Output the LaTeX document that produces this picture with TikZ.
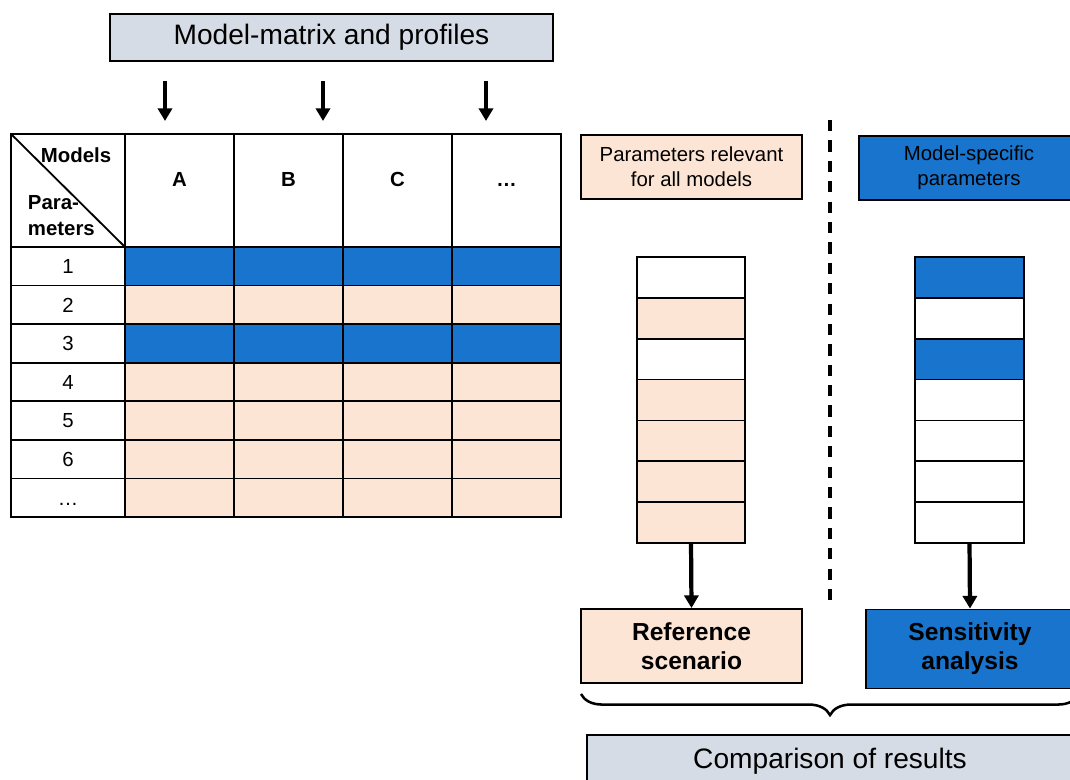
\documentclass[tikz,border=0pt]{standalone}
\usepackage{fontspec}
\setmainfont{Liberation Sans}
\usetikzlibrary{arrows.meta,decorations.pathreplacing}

\definecolor{mblue}{RGB}{24,116,205}
\definecolor{peach}{RGB}{253,229,213}
\definecolor{headgray}{RGB}{214,220,229}

\tikzset{
  cell/.style={draw, line width=1.3pt, inner sep=0pt, outer sep=0pt, anchor=north west,
    text height=10.4pt, text depth=0pt, font=\fontsize{14.5}{17}\selectfont},
  headbox/.style={draw, line width=1.3pt, fill=headgray, inner sep=0pt,
    font=\fontsize{20}{24}\selectfont},
  infobox/.style={draw, line width=1.3pt, inner sep=0pt, align=center,
    font=\fontsize{14.5}{17.5}\selectfont},
  resbox/.style={draw, line width=1.3pt, inner sep=0pt, align=center,
    font=\fontsize{17.5}{20.5}\selectfont\bfseries},
  flow/.style={line width=3pt, -{Triangle[width=10pt,length=9pt]}}
}

\begin{document}
\begin{tikzpicture}[x=0.025cm, y=-0.025cm]
    \useasboundingbox (0,0) rectangle (1070,780);
    \clip (0,0) rectangle (1070,780);

    % Top heading and the three arrows below it
    \node[headbox, minimum width=11.075cm, minimum height=1.175cm] (matrix) at (331.5,37.5) {Model-matrix and profiles};
    \foreach \ax/\n in {165/1,323/2,486/3} {
        \coordinate (as\n) at (\ax,81);
        \coordinate (ae\n) at (\ax,121);
        \draw[flow] (as\n) -- (ae\n);
    }

    % Table head
    \node[cell, minimum width=2.85cm, minimum height=2.825cm] (hd) at (11,134) {};
    \draw[line width=1.3pt] (hd.north west) -- (hd.south east);
    \node[font=\fontsize{14.5}{17}\selectfont\bfseries] (models) at (76,155) {Models};
    \node[anchor=west, align=left, font=\fontsize{14.5}{18.5}\selectfont\bfseries] (params) at (23,216) {Para-\\meters};
    \foreach \lab [count=\i from 0] in {A,B,C,…} {
        \node[cell, minimum width=2.725cm, minimum height=2.825cm] (col\i) at ({125+109*\i},134) {};
        \node[anchor=base, font=\fontsize{14.5}{17}\selectfont\bfseries] (colname\i) at ({179.5+109*\i},187) {\lab};
    }

    % Table rows
    \foreach \r/\lab/\fc in {1/1/mblue,2/2/peach,3/3/mblue,4/4/peach,5/5/peach,6/6/peach,7/…/peach} {
        \node[cell, minimum width=2.85cm, minimum height=0.964cm] (row\r) at (11,{247+38.57*(\r-1)}) {\lab};
        \foreach \i in {0,...,3}
            \node[cell, fill=\fc, minimum width=2.725cm, minimum height=0.964cm] (c\r\i) at ({125+109*\i},{247+38.57*(\r-1)}) {};
    }

    % Parameter groups
    \node[infobox, fill=peach, minimum width=5.525cm, minimum height=1.6cm] (allpar) at (691.5,167) {Parameters relevant\\for all models};
    \node[infobox, fill=mblue, minimum width=5.5cm, minimum height=1.6cm] (specpar) at (969,168) {Model-specific\\parameters};

    % Divider
    \coordinate (dtop) at (830,120);
    \coordinate (dbot) at (830,603);
    \draw[line width=2.5pt, dash pattern=on 8pt off 6.5pt] (dtop) -- (dbot);

    % Parameter stacks
    \foreach \k/\lc/\rc in {1/white/mblue,2/peach/white,3/white/mblue,4/peach/white,5/peach/white,6/peach/white,7/peach/white} {
        \node[cell, fill=\lc, minimum width=2.7cm, minimum height=1.0214cm] (ls\k) at (637,{257+40.86*(\k-1)}) {};
        \node[cell, fill=\rc, minimum width=2.725cm, minimum height=1.0214cm] (rs\k) at (915,{257+40.86*(\k-1)}) {};
    }

    % Results
    \node[resbox, fill=peach, minimum width=5.525cm, minimum height=1.85cm] (refsc) at (691.5,646) {Reference\\scenario};
    \node[resbox, fill=mblue, minimum width=5.2cm, minimum height=1.975cm] (sens) at (970,649) {Sensitivity\\analysis};
    \draw[flow] (ls7.south) -- (refsc.north);
    \draw[flow] (rs7.south) -- (sens.north);

    % Brace and comparison
    \coordinate (brl) at (581,694);
    \coordinate (brr) at (1079,694);
    \draw[line width=1.8pt, decorate, decoration={brace, mirror, amplitude=15pt}] (brl) -- (brr);
    \node[headbox, minimum width=12.15cm, minimum height=1.3cm] (compare) at (830,761) {Comparison of results};
\end{tikzpicture}
\end{document}
